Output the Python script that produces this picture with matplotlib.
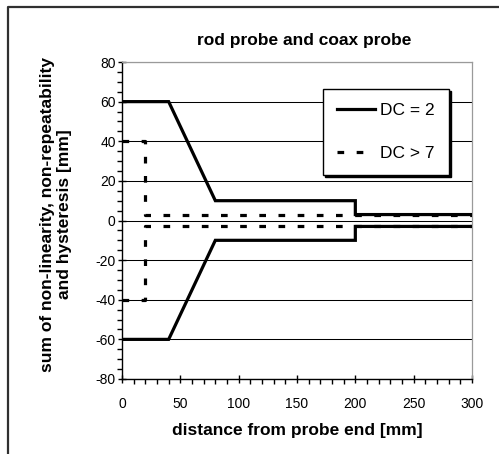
import matplotlib
matplotlib.use("Agg")
import matplotlib.pyplot as plt
from matplotlib.lines import Line2D
from matplotlib.ticker import MultipleLocator

plt.rcParams['font.family'] = ['Liberation Sans', 'DejaVu Sans']
plt.rcParams['lines.scale_dashes'] = False
plt.rcParams['axes.unicode_minus'] = False

# data
dc2_x = [0, 40, 80, 200, 200, 300]
dc2_upper = [60, 60, 10, 10, 3, 3]
dc2_lower = [-60, -60, -10, -10, -3, -3]

dc7_x = [0, 20, 20, 300]
dc7_upper = [40, 40, 3, 3]
dc7_lower = [-40, -40, -3, -3]

title = "rod probe and coax probe"
xlabel = "distance from probe end [mm]"
ylabel = "sum of non-linearity, non-repeatability\nand hysteresis [mm]"
legend_labels = ["DC = 2", "DC > 7"]

W, H = 499, 454
fig = plt.figure(figsize=(W / 100, H / 100), dpi=100)
ax = fig.add_axes([122 / W, 1 - 379 / H, 350 / W, 317 / H])

dash = (0, (4.8, 9.0))
lw = 2.3
l1, = ax.plot(dc2_x, dc2_upper, color='black', lw=lw, solid_joinstyle='miter', zorder=3)
ax.plot(dc2_x, dc2_lower, color='black', lw=lw, solid_joinstyle='miter', zorder=3)
l2, = ax.plot(dc7_x, dc7_upper, color='black', lw=lw, linestyle=dash, dash_capstyle='butt', zorder=4)
ax.plot(dc7_x, dc7_lower, color='black', lw=lw, linestyle=dash, dash_capstyle='butt', zorder=4)

ax.set_xlim(0, 300)
ax.set_ylim(-80, 80)
ax.xaxis.set_major_locator(MultipleLocator(50))
ax.xaxis.set_minor_locator(MultipleLocator(10))
ax.yaxis.set_major_locator(MultipleLocator(20))
ax.yaxis.set_minor_locator(MultipleLocator(5))

ax.grid(axis='y', which='major', color='black', lw=0.75, zorder=1)
ax.set_axisbelow(True)

for s in ['top', 'right']:
    ax.spines[s].set_color('#9a9a9a')
    ax.spines[s].set_linewidth(0.9)
for s in ['left', 'bottom']:
    ax.spines[s].set_color('black')
    ax.spines[s].set_linewidth(1.0)

ax.tick_params(axis='both', which='major', direction='inout', length=6, width=1.0,
               labelsize=10, colors='black')
ax.tick_params(axis='both', which='minor', direction='out', length=3.5, width=1.0)
ax.tick_params(axis='x', which='major', pad=10)
ax.tick_params(axis='y', which='major', pad=1.5)

leg = ax.legend([l1, l2], legend_labels, loc='upper left',
                bbox_to_anchor=(0.574, 0.915), borderaxespad=0,
                fontsize=12.5, frameon=True, fancybox=False,
                edgecolor='black', framealpha=1,
                labelspacing=1.6, borderpad=0.8, handlelength=2.2,
                handletextpad=0.3,
                shadow={'ox': 1.3, 'oy': -1.3, 'facecolor': 'black',
                        'edgecolor': 'black', 'alpha': 1})
leg.get_frame().set_linewidth(1.0)

fig.text(304 / W, 1 - 40 / H, title, ha='center', va='center',
         fontsize=12.5, fontweight='bold')
fig.text(297 / W, 1 - 430 / H, xlabel, ha='center', va='center',
         fontsize=12.5, fontweight='bold')
fig.text(56 / W, 1 - 214 / H, ylabel, ha='center', va='center',
         rotation=90, fontsize=12.5, fontweight='bold',
         multialignment='center', linespacing=1.2)

# outer chart-area frame
fig.add_artist(Line2D([8 / W, 8 / W, 1.0], [0.0, 1 - 7 / H, 1 - 7 / H],
                      transform=fig.transFigure, color='#303030', lw=1.6))

fig.savefig('out.png', dpi=100)
